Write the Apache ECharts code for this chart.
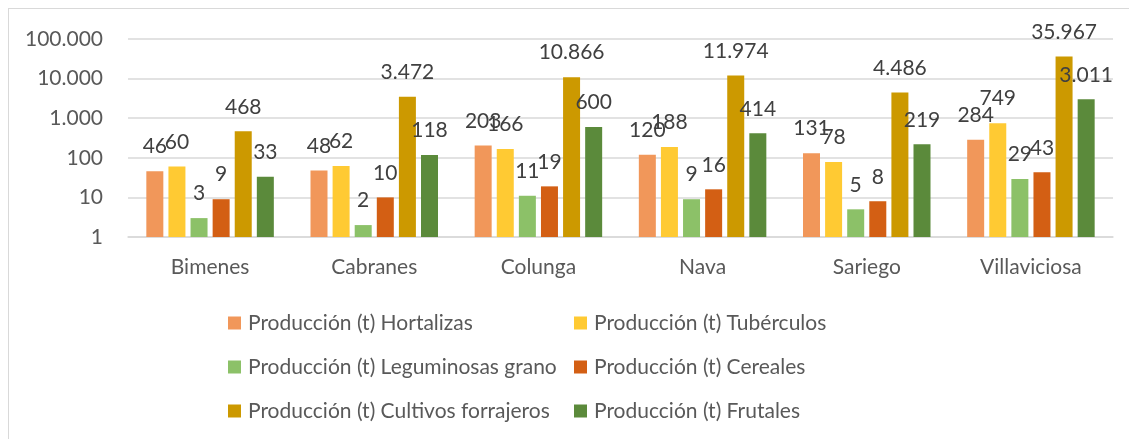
<!DOCTYPE html>
<html>
<head>
<meta charset="utf-8">
<script src="https://cdn.jsdelivr.net/npm/echarts@6/dist/echarts.min.js"></script>
<style>
  html, body { margin: 0; padding: 0; background: #fff; }
  #frame { position: absolute; left: 8px; top: 8px; width: 1140px; height: 450px; border: 1px solid #d9d9d9; box-sizing: border-box; }
  #chart { position: absolute; left: 0; top: 0; width: 1129px; height: 439px; }
</style>
</head>
<body>
<div id="frame"></div>
<div id="chart"></div>
<script>
var municipios = ["Bimenes", "Cabranes", "Colunga", "Nava", "Sariego", "Villaviciosa"];
var hortalizas = [46, 48, 203, 120, 131, 284];
var tuberculos = [60, 62, 166, 188, 78, 749];
var leguminosas = [3, 2, 11, 9, 5, 29];
var cereales = [9, 10, 19, 16, 8, 43];
var forrajeros = [468, 3472, 10866, 11974, 4486, 35967];
var frutales = [33, 118, 600, 414, 219, 3011];

var nombres = [
  "Producción (t) Hortalizas",
  "Producción (t) Tubérculos",
  "Producción (t) Leguminosas grano",
  "Producción (t) Cereales",
  "Producción (t) Cultivos forrajeros",
  "Producción (t) Frutales"
];
var colores = ["#F1975A", "#FFCA33", "#8CC168", "#D35F14", "#CC9900", "#5B8A3B"];
var valores = [hortalizas, tuberculos, leguminosas, cereales, forrajeros, frutales];

// separador de miles con punto
function fmt(v) {
  return String(Math.round(v)).replace(/\B(?=(\d{3})+(?!\d))/g, ".");
}

var fuente = "Lato, 'Noto Sans', sans-serif";

var series = valores.map(function (d, i) {
  return {
    name: nombres[i],
    type: "bar",
    data: d,
    barWidth: 17,
    barGap: "30%",
    itemStyle: { color: colores[i] },
    label: {
      show: true,
      position: "top",
      distance: 14,
      color: "#404040",
      fontSize: 21,
      fontFamily: fuente,
      formatter: function (p) { return fmt(p.value); }
    }
  };
});

var leyenda = {
  orient: "vertical",
  top: 306,
  itemWidth: 13, itemHeight: 13, itemGap: 20,
  icon: "rect",
  textStyle: { color: "#595959", fontSize: 21, lineHeight: 24, fontFamily: fuente, padding: [0, 0, 0, 2] }
};

var chart = echarts.init(document.getElementById("chart"));
chart.setOption({
  animation: false,
  backgroundColor: "transparent",
  grid: { left: 128, right: 16, top: 39, bottom: 202 },
  legend: [
    Object.assign({}, leyenda, { left: 223, data: [nombres[0], nombres[2], nombres[4]] }),
    Object.assign({}, leyenda, { left: 569, data: [nombres[1], nombres[3], nombres[5]] })
  ],
  xAxis: {
    type: "category",
    data: municipios,
    axisLine: { lineStyle: { color: "#d9d9d9", width: 1.5 } },
    axisTick: { show: false },
    axisLabel: { color: "#595959", fontSize: 21, fontFamily: fuente, margin: 20 }
  },
  yAxis: {
    type: "log",
    logBase: 10,
    min: 1,
    max: 100000,
    axisLine: { show: false },
    axisTick: { show: false },
    splitLine: { lineStyle: { color: "#d9d9d9", width: 1.5 } },
    axisLabel: { color: "#595959", fontSize: 21, fontFamily: fuente, margin: 25, formatter: function (v) { return fmt(v); } }
  },
  series: series
});
</script>
</body>
</html>
